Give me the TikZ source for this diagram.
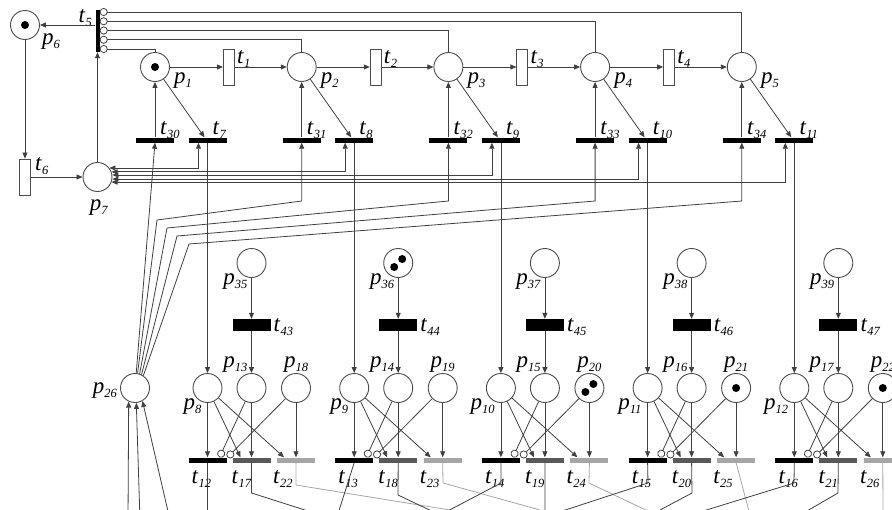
\documentclass[tikz,border=0pt]{standalone}
\usepackage{fontspec}
\setmainfont{Liberation Serif}
\usetikzlibrary{arrows.meta}

\newcommand{\sub}[2]{\textit{#1}\raisebox{-0.45ex}{\fontsize{12.5}{12.5}\selectfont\textit{#2}}}

\begin{document}
\begin{tikzpicture}[x=1pt,y=-1pt,
		>={Triangle[length=6pt,width=5pt]},
		place/.style={circle, draw=black!70, line width=0.9pt, minimum size=29pt, inner sep=0pt, fill=white},
		tok/.style={circle, fill=black, minimum size=8pt, inner sep=0pt},
		tw/.style={rectangle, draw=black!70, line width=0.9pt, minimum width=11pt, minimum height=36pt, inner sep=0pt, fill=white},
		tv/.style={rectangle, fill=black, minimum width=4pt, minimum height=42pt, inner sep=0pt},
		tb/.style={rectangle, fill=black, minimum width=38pt, minimum height=5pt, inner sep=0pt},
		tg/.style={tb, fill=black!65},
		tl/.style={tb, fill=black!35},
		tbig/.style={rectangle, fill=black, minimum width=38pt, minimum height=12pt, inner sep=0pt},
		lbl/.style={inner sep=0pt, font=\fontsize{23}{25}\selectfont},
		arc/.style={->, draw=black!75, line width=0.8pt},
		inh/.style={-{Circle[open, length=8pt, width=8pt]}, draw=black!75, line width=0.8pt},
		dbl/.style={<->, draw=black!75, line width=0.8pt},
		ln/.style={draw=black!75, line width=0.8pt},
		lnl/.style={draw=black!35, line width=0.8pt},
		]
		\useasboundingbox (0,0) rectangle (892,509);
		\clip (0,0) rectangle (892,509);

		%Left loop
		\node[place] (p6)  at (25,25)   {};
		\node[tok]         at (p6)      {};
		\node[lbl, anchor=base west] at (42,44) {\sub{p}{6}};
		\node[tv]    (t5)  at (97.5,31) {};
		\node[lbl, anchor=base east] at (92,22) {\sub{t}{5}};
		\node[tw]    (t6)  at (25,177)  {};
		\node[lbl, anchor=base west] at (35,170) {\sub{t}{6}};
		\node[place] (p7)  at (97.5,177) {};
		\node[lbl, anchor=base] at (99,210) {\sub{p}{7}};
		\node[place] (p26) at (135,388) {};
		\node[lbl, anchor=base east] at (117,393) {\sub{p}{26}};

		\draw[arc] ([yshift=6]t5.west) -- (p6.east);
		\draw[arc] (p6) -- (t6);
		\draw[arc] (t6) -- (p7);
		\draw[arc] (p7) -- (t5);

		%Upper row
		\foreach \k in {0,...,4}{
			\pgfmathsetmacro\xa{155+146.7*\k}
			\pgfmathsetmacro\xb{\xa+52.5}
			\pgfmathsetmacro\ys{-18+9.25*\k}
			\pgfmathtruncatemacro\np{1+\k}
			\pgfmathtruncatemacro\nt{30+\k}
			\pgfmathtruncatemacro\nu{7+\k}
			\node[place] (p\np) at (\xa,67)  {};
			\node[lbl, anchor=base west] at (\xa+19,83) {\sub{p}{\np}};
			\node[tb]    (t\nt) at (\xa,140) {};
			\node[lbl, anchor=base west] at (\xa+5,134) {\sub{t}{\nt}};
			\node[tb]    (t\nu) at (\xb,140) {};
			\node[lbl, anchor=base west] at (\xb+5,134) {\sub{t}{\nu}};
			\draw[arc] (t\nt) -- (p\np);
			\draw[arc] (p\np) -- ([xshift=-3]t\nu.north);
			\draw[inh] (p\np.north) |- ([yshift=\ys]t5.east);
		}
		\node[tok] at (p1) {};

		\foreach \k in {0,...,3}{
			\pgfmathsetmacro\xa{229+146.7*\k}
			\pgfmathtruncatemacro\np{1+\k}
			\pgfmathtruncatemacro\nq{2+\k}
			\node[tw] (t\np) at (\xa,67) {};
			\node[lbl, anchor=base west] at (\xa+8,63) {\sub{t}{\np}};
			\draw[arc] (p\np) -- (t\np);
			\draw[arc] (t\np) -- (p\nq);
		}

		%p7 to t7..t11
		\foreach \k/\a in {0/37, 1/20, 2/8, 3/-8, 4/-20}{
			\pgfmathtruncatemacro\nu{7+\k}
			\draw[dbl] (p7.\a) -| ([xshift=-9]t\nu.south);
		}

		%p26 to t30..t34
		\draw[arc] (p26) -- (t30.south);
		\foreach \k/\a/\bx/\by in {1/80/157/220, 2/72/167/228, 3/64/177/236, 4/56/189/244}{
			\pgfmathtruncatemacro\nt{30+\k}
			\pgfmathsetmacro\xa{155+146.7*\k}
			\draw[arc] (p26.\a) -- (\bx,\by) -- (\xa,201) -- (t\nt.south);
		}
		\draw[arc] (128,520) -- (p26.-115);
		\draw[arc] (140,520) -- (p26.-85);
		\draw[arc] (170,520) -- (p26.-60);

		%Lower part
		\foreach \k in {0,...,4}{
			\pgfmathsetmacro\xb{207.5+146.7*\k}
			\pgfmathsetmacro\xc{\xb+44}
			\pgfmathsetmacro\xd{\xb+88.5}
			\pgfmathtruncatemacro\nu{7+\k}
			\pgfmathtruncatemacro\na{8+\k}
			\pgfmathtruncatemacro\nb{13+\k}
			\pgfmathtruncatemacro\nc{18+\k}
			\pgfmathtruncatemacro\nd{35+\k}
			\pgfmathtruncatemacro\ne{43+\k}
			\pgfmathtruncatemacro\nf{12+\k}
			\pgfmathtruncatemacro\ng{17+\k}
			\pgfmathtruncatemacro\nh{22+\k}
			\node[place] (p\na) at (\xb,388) {};
			\node[lbl, anchor=base east] at (\xb-6,409) {\sub{p}{\na}};
			\node[place] (p\nb) at (\xc,388) {};
			\node[lbl, anchor=base east] at (\xc-4,367) {\sub{p}{\nb}};
			\node[place] (p\nc) at (\xd,388) {};
			\node[lbl, anchor=base] at (\xd,367) {\sub{p}{\nc}};
			\node[place] (p\nd) at (\xc,263) {};
			\node[lbl, anchor=base east] at (\xc-4,284) {\sub{p}{\nd}};
			\node[tbig]  (t\ne) at (\xc,325) {};
			\node[lbl, anchor=base west] at (\xc+22,331) {\sub{t}{\ne}};
			\node[tb]    (t\nf) at (\xb,460) {};
			\node[lbl, anchor=base west] at (\xb-16,483) {\sub{t}{\nf}};
			\node[tg]    (t\ng) at (\xc,460) {};
			\node[lbl, anchor=base west] at (\xc-20,483) {\sub{t}{\ng}};
			\node[tl]    (t\nh) at (\xd,460) {};
			\node[lbl, anchor=base west] at (\xd-23,483) {\sub{t}{\nh}};
			\draw[arc] (t\nu) -- (p\na);
			\draw[arc] (p\nd) -- (t\ne);
			\draw[arc] (t\ne) -- (p\nb);
			\draw[arc] (p\na) -- (t\nf);
			\draw[arc] (p\na) -- ([xshift=-11]t\ng.north);
			\draw[arc] (p\na) -- ([xshift=-12]t\nh.north);
			\draw[arc] (p\nb) -- (t\ng);
			\draw[arc] (p\nc) -- (t\nh);
			\draw[inh] (p\nb) -- ([xshift=12]t\nf.north);
			\draw[inh] (p\nc) -- ([xshift=20]t\nf.north);
		}
		\node[tok] at ([shift={(4,-4)}]p20.center) {};
		\node[tok] at ([shift={(-4,4)}]p20.center) {};
		\node[tok] at ([shift={(4,-4)}]p36.center) {};
		\node[tok] at ([shift={(-4,4)}]p36.center) {};
		\node[tok] at (p21) {};
		\node[tok] at (p22) {};

		%Outgoing arcs, cut off at the bottom
		\draw[ln]  (t12.south) -- (207.5,520);
		\draw[ln]  (t17.south) -- (251.5,493) -- (330,518);
		\draw[lnl] (t22.south) -- (296,485) -- (450,510);
		\draw[ln]  (t13.south) -- (336,520);
		\draw[ln]  (t18.south) -- (398,495) -- (440,515);
		\draw[lnl] (t23.south) -- (443,483) -- (540,510);
		\draw[ln]  (t14.south) -- (501,483) -- (440,515);
		\draw[ln]  (t19.south) -- (545,520);
		\draw[lnl] (t24.south) -- (589,483) -- (650,512);
		\draw[ln]  (t15.south) -- (648,483) -- (550,515);
		\draw[ln]  (t20.south) -- (692,493) -- (660,510);
		\draw[lnl] (t25.south) -- (750,515);
		\draw[ln]  (t16.south) -- (794,483) -- (700,512);
		\draw[ln]  (t21.south) -- (838,493) -- (800,515);
		\draw[lnl] (t26.south) -- (883,520);
	\end{tikzpicture}
\end{document}
